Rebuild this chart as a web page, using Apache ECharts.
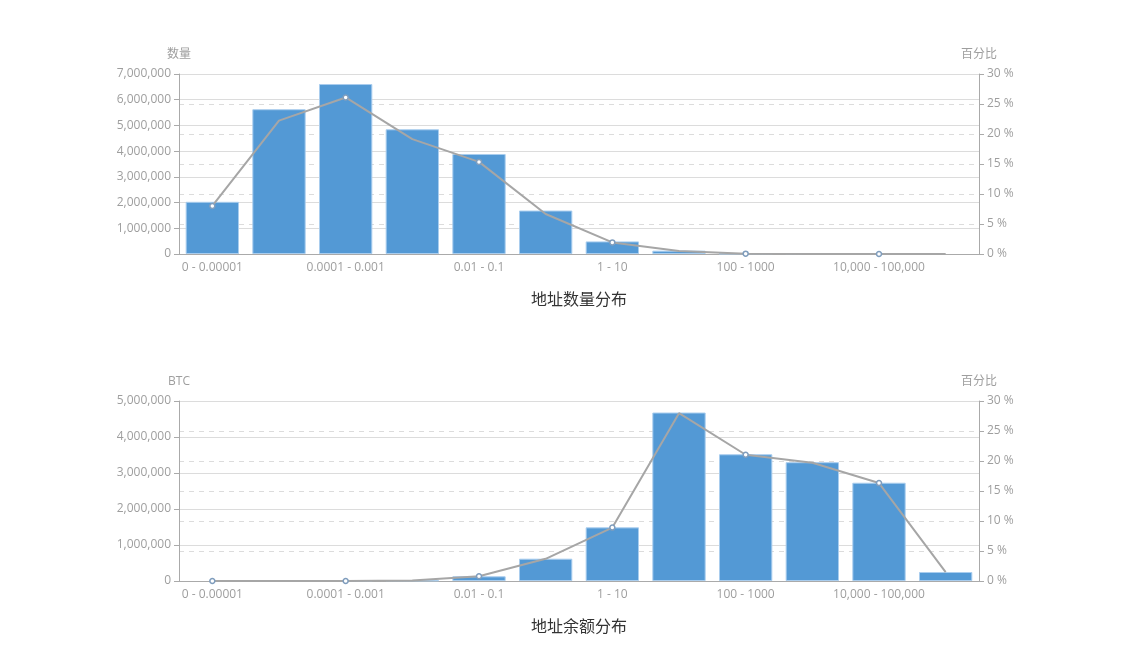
<!DOCTYPE html>
<html>
<head>
<meta charset="utf-8">
<script src="https://cdn.jsdelivr.net/npm/echarts@6/dist/echarts.min.js"></script>
<style>
  html, body { margin: 0; padding: 0; background: #fff; }
  #chart { width: 1147px; height: 650px; }
</style>
</head>
<body>
<div id="chart"></div>
<script>
// Balance ranges (BTC)
var categories = [
  '0 - 0.00001', '0.00001 - 0.0001', '0.0001 - 0.001', '0.001 - 0.01',
  '0.01 - 0.1', '0.1 - 1', '1 - 10', '10 - 100', '100 - 1000',
  '1000 - 10,000', '10,000 - 100,000', '100,000 - 1,000,000'
];

// Number of addresses per range, and share of all addresses (%)
var addressCounts = [2030000, 5630000, 6610000, 4850000, 3890000, 1690000, 490000, 130000, 16000, 2100, 100, 0];
var addressPercent = [8.01, 22.22, 26.09, 19.14, 15.35, 6.67, 1.93, 0.51, 0.06, 0.01, 0, 0];

// BTC held per range, and share of all BTC (%)
var balanceBtc = [0, 0, 300, 16000, 130000, 620000, 1490000, 4680000, 3520000, 3300000, 2730000, 250000];
var balancePercent = [0, 0, 0.01, 0.1, 0.78, 3.7, 8.9, 27.97, 21.04, 19.72, 16.32, 1.49];

// Axis ticks
var countAxisMax = 7000000;
var btcAxisMax = 5000000;
var percentAxisMax = 30;

var FONT = "'Open Sans', 'Noto Sans CJK SC', sans-serif";
var AXIS_GRAY = '#aaaaaa';
var LABEL_GRAY = '#9e9e9e';
var BAR_BLUE = '#5399d5';

function fmtThousands(v) {
  return String(v).replace(/\B(?=(\d{3})+(?!\d))/g, ',');
}

function makeXAxis(gridIndex) {
  return {
    type: 'category',
    gridIndex: gridIndex,
    data: categories,
    axisLine: { lineStyle: { color: AXIS_GRAY } },
    axisTick: { interval: 1, length: 5, lineStyle: { color: AXIS_GRAY } },
    axisLabel: { interval: 1, color: LABEL_GRAY, fontFamily: FONT, fontSize: 12, margin: 8 },
    splitLine: { show: false }
  };
}

function makeLeftAxis(gridIndex, name, max) {
  return {
    type: 'value',
    gridIndex: gridIndex,
    name: name,
    nameLocation: 'end',
    nameGap: 13,
    nameTextStyle: { color: LABEL_GRAY, fontFamily: FONT, fontSize: 12, align: 'center' },
    min: 0,
    max: max,
    interval: 1000000,
    axisLine: { show: true, lineStyle: { color: AXIS_GRAY } },
    axisTick: { show: true, length: 5, lineStyle: { color: AXIS_GRAY } },
    axisLabel: { color: LABEL_GRAY, fontFamily: FONT, fontSize: 12, margin: 8, formatter: fmtThousands },
    splitLine: { show: true, lineStyle: { color: '#dcdcdc', type: 'solid' } }
  };
}

function makeRightAxis(gridIndex) {
  return {
    type: 'value',
    gridIndex: gridIndex,
    position: 'right',
    name: '百分比',
    nameLocation: 'end',
    nameGap: 13,
    nameTextStyle: { color: LABEL_GRAY, fontFamily: FONT, fontSize: 12, align: 'center' },
    min: 0,
    max: percentAxisMax,
    interval: 5,
    axisLine: { show: true, lineStyle: { color: AXIS_GRAY } },
    axisTick: { show: true, length: 5, lineStyle: { color: AXIS_GRAY } },
    axisLabel: { color: LABEL_GRAY, fontFamily: FONT, fontSize: 12, margin: 8, formatter: '{value} %' },
    splitLine: { show: true, lineStyle: { color: '#dcdcdc', type: [5, 5] } }
  };
}

function barSeries(axisIndex, data, name) {
  return {
    name: name,
    type: 'bar',
    xAxisIndex: axisIndex,
    yAxisIndex: axisIndex * 2,
    // empty ranges get no bar outline
    data: data.map(function (v) { return v === 0 ? '-' : v; }),
    barCategoryGap: '20%',
    itemStyle: { color: BAR_BLUE, borderColor: '#a9cdee', borderWidth: 1 },
    z: 2
  };
}

function lineSeries(axisIndex, data, name) {
  return {
    name: name,
    type: 'line',
    xAxisIndex: axisIndex,
    yAxisIndex: axisIndex * 2 + 1,
    data: data,
    // markers on every other point, in step with the shown category labels
    symbol: function (value, params) {
      return params.dataIndex % 2 === 0 ? 'circle' : 'none';
    },
    symbolSize: 5,
    showAllSymbol: true,
    lineStyle: { color: '#a6a6a6', width: 2 },
    itemStyle: { color: '#ffffff', borderColor: '#7f9dbd', borderWidth: 1.5 },
    z: 3
  };
}

var TITLE_STYLE = { color: '#333333', fontFamily: FONT, fontSize: 16, fontWeight: 'normal' };

var chart = echarts.init(document.getElementById('chart'), null, { renderer: 'canvas' });

chart.setOption({
  animation: false,
  backgroundColor: '#ffffff',
  title: [
    { text: '地址数量分布', left: 531, top: 292, padding: 0, textStyle: TITLE_STYLE },
    { text: '地址余额分布', left: 531, top: 619, padding: 0, textStyle: TITLE_STYLE }
  ],
  grid: [
    { left: 179, right: 168, top: 74, height: 180 },
    { left: 179, right: 168, top: 401, height: 180 }
  ],
  xAxis: [makeXAxis(0), makeXAxis(1)],
  yAxis: [
    makeLeftAxis(0, '数量', countAxisMax),
    makeRightAxis(0),
    makeLeftAxis(1, 'BTC', btcAxisMax),
    makeRightAxis(1)
  ],
  series: [
    barSeries(0, addressCounts, '数量'),
    lineSeries(0, addressPercent, '百分比'),
    barSeries(1, balanceBtc, 'BTC'),
    lineSeries(1, balancePercent, '百分比')
  ]
});
</script>
</body>
</html>
